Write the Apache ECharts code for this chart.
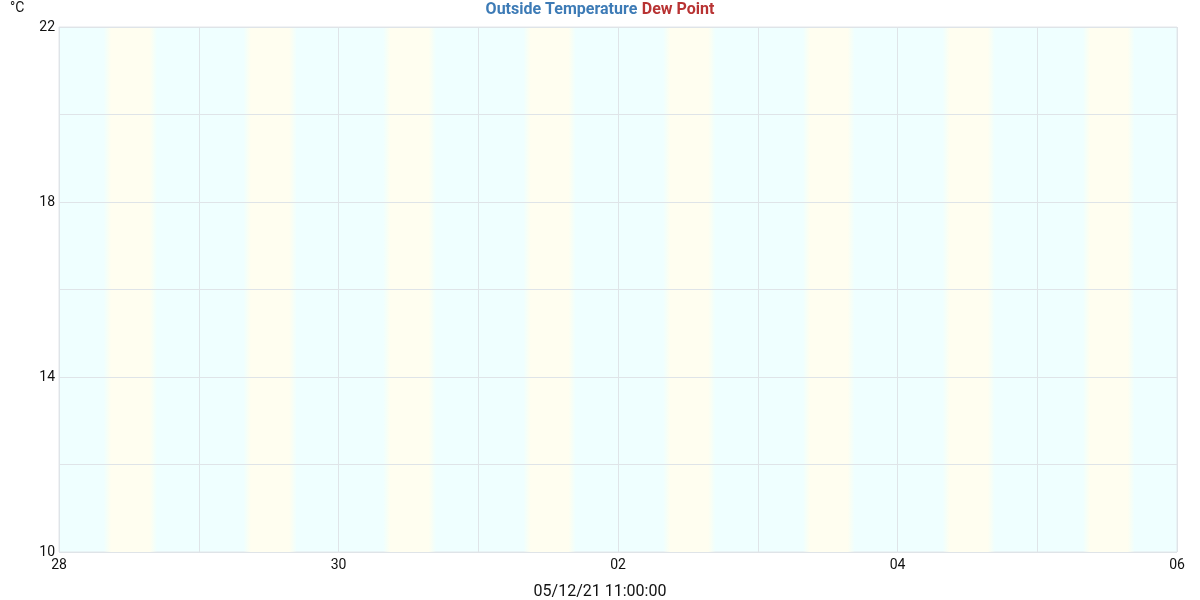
<!DOCTYPE html>
<html>
<head>
<meta charset="utf-8">
<script src="https://cdn.jsdelivr.net/npm/echarts@6/dist/echarts.min.js"></script>
<style>html,body{margin:0;padding:0;background:#fff}#c{width:1200px;height:600px}</style>
</head>
<body>
<div id="c"></div>
<script>
// ---- data ----
const seriesNames = ['Outside Temperature', 'Dew Point'];
const outsideTemperature = [];   // no points visible in the reference
const dewPoint = [];             // no points visible in the reference
const days = ['2021-04-28','2021-04-29','2021-04-30','2021-05-01','2021-05-02','2021-05-03','2021-05-04','2021-05-05'];
const daylightStart = ['07:40','07:40','07:40','07:45','07:45','07:45','07:45','07:50'];
const daylightEnd   = ['16:50','16:50','16:45','16:45','16:45','16:40','16:45','16:45'];
const xMin = '2021-04-28T00:00:00';
const xMax = '2021-05-06T00:00:00';
const yTicks = [10, 14, 18, 22];
const unitLabel = '°C';
const footerText = '05/12/21 11:00:00';

const DAY = 86400000;
const tMin = new Date(xMin).getTime();
const tMax = new Date(xMax).getTime();
const font = 'Roboto, "Noto Sans", sans-serif';

const bandData = days.map((d, i) => [
  new Date(d + 'T' + daylightStart[i] + ':00').getTime(),
  new Date(d + 'T' + daylightEnd[i] + ':00').getTime(),
  10
]);

function bandFill() {
  return new echarts.graphic.LinearGradient(0, 0, 1, 0, [
    {offset: 0, color: 'rgba(255,255,238,0)'},
    {offset: 0.14, color: '#fffef0'},
    {offset: 0.86, color: '#fffef0'},
    {offset: 1, color: 'rgba(255,255,238,0)'}
  ]);
}

const chart = echarts.init(document.getElementById('c'), null, {renderer: 'canvas'});
chart.setOption({
  animation: false,
  textStyle: {fontFamily: font},
  title: {
    text: '{a|' + seriesNames[0] + '} {b|' + seriesNames[1] + '}',
    left: 'center', top: 0, padding: [1, 5, 5, 5],
    textStyle: {
      rich: {
        a: {color: '#3d7bb6', fontSize: 16, fontWeight: 'bold', fontFamily: font},
        b: {color: '#b83333', fontSize: 16, fontWeight: 'bold', fontFamily: font}
      }
    }
  },
  graphic: [
    {type: 'text', left: 10, top: 1, style: {text: unitLabel, fontSize: 14, fill: '#111', fontFamily: font}},
    {type: 'text', left: 'center', top: 584, style: {text: footerText, fontSize: 16, fill: '#111', fontFamily: font}}
  ],
  grid: {left: 59, right: 23, top: 27, bottom: 48, show: true, backgroundColor: '#efffff', borderColor: '#e2e6ea', borderWidth: 1},
  xAxis: {
    type: 'time', min: tMin, max: tMax, interval: DAY, minInterval: DAY, maxInterval: DAY, z: 3,
    axisLine: {show: false}, axisTick: {show: false},
    splitLine: {show: true, lineStyle: {color: '#dfe4e8', width: 1}},
    axisLabel: {
      color: '#111', fontSize: 14, margin: 6, hideOverlap: false, showMinLabel: true, showMaxLabel: true,
      formatter: function (v) {
        const idx = Math.round((v - tMin) / DAY);
        if (idx % 2 !== 0) return '';
        const d = new Date(v).getDate();
        return (d < 10 ? '0' : '') + d;
      }
    }
  },
  yAxis: {
    type: 'value', min: 10, max: 22, interval: 2, z: 3,
    axisLine: {show: false}, axisTick: {show: false},
    splitLine: {show: true, lineStyle: {color: '#dfe4e8', width: 1}},
    axisLabel: {
      color: '#111', fontSize: 14, margin: 4, padding: [2, 0, 0, 0],
      formatter: function (v) { return yTicks.indexOf(v) >= 0 ? String(v) : ''; }
    }
  },
  series: [
    {
      type: 'custom', silent: true, z: 1, data: bandData, encode: {x: [0, 1], y: 2}, clip: true,
      renderItem: function (params, api) {
        const cs = params.coordSys;
        const p0 = api.coord([api.value(0), api.value(2)]);
        const p1 = api.coord([api.value(1), api.value(2)]);
        return {type: 'rect', shape: {x: p0[0], y: cs.y, width: p1[0] - p0[0], height: cs.height},
                style: {fill: bandFill()}};
      }
    },
    {name: seriesNames[0], type: 'line', data: outsideTemperature, showSymbol: false, lineStyle: {color: '#3d7bb6'}},
    {name: seriesNames[1], type: 'line', data: dewPoint, showSymbol: false, lineStyle: {color: '#b83333'}}
  ]
});
</script>
</body>
</html>
